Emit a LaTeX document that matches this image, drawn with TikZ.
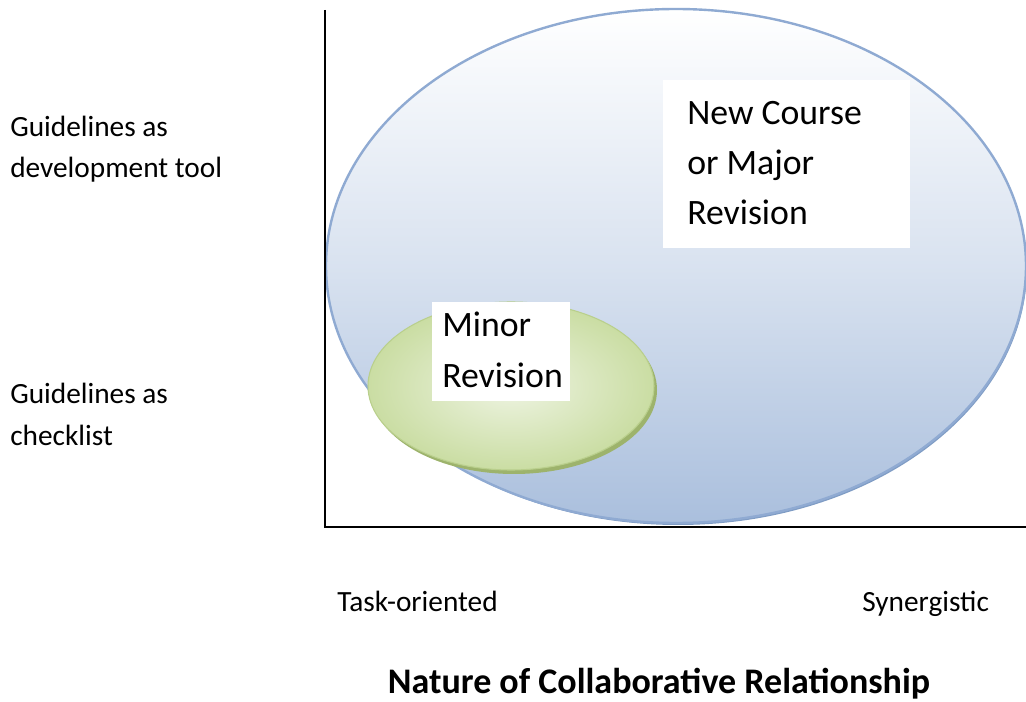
\documentclass[tikz,border=0pt]{standalone}
\usepackage{fontspec}
\setmainfont{Carlito}
\definecolor{bigedge}{HTML}{8FAAD2}
\definecolor{bigbot}{HTML}{AABFDD}
\definecolor{bigshadow}{HTML}{7F9CC4}
\definecolor{smalledge}{HTML}{B9CF8C}
\definecolor{smallout}{HTML}{CADDA3}
\definecolor{smallin}{HTML}{EEF4E2}
\definecolor{smallshadow}{HTML}{9DB36C}
\tikzset{
  axislabel/.style={anchor=base west, inner sep=0pt, font=\fontsize{22pt}{26pt}\selectfont},
  boxtext/.style={anchor=base west, inner sep=0pt, font=\fontsize{26.8pt}{32pt}\selectfont},
  whitebox/.style={fill=white, draw=none, anchor=north west, inner sep=0pt},
  axisline/.style={line width=1.6pt, black}
}
\begin{document}
\begin{tikzpicture}[x=0.75pt,y=-0.75pt]
\useasboundingbox (0,0) rectangle (1026,702);
% big ellipse with soft shadow
\fill[bigshadow] (678,268) ellipse [x radius=349, y radius=257];
\shade[top color=white, bottom color=bigbot, middle color=white!55!bigbot] (676,266) ellipse [x radius=350, y radius=257];
\draw[bigedge, line width=1.8pt] (676,266) ellipse [x radius=350, y radius=257];
% small ellipse shadow and body
\fill[smallshadow] (514,390) ellipse [x radius=143, y radius=84];
\shade[inner color=smallin, outer color=smallout] (511,386) ellipse [x radius=143, y radius=84];
\draw[smalledge, line width=0.8pt] (511,386) ellipse [x radius=143, y radius=84];
% axes
\coordinate (ytop) at (325,10);
\coordinate (orig) at (325,527);
\coordinate (xend) at (1026,527);
\draw[axisline] (ytop) -- (orig) -- (xend);
% white boxes
\node[whitebox, minimum width=247*0.75pt, minimum height=168*0.75pt] (boxA) at (663,80) {};
\node[whitebox, minimum width=138*0.75pt, minimum height=99*0.75pt] (boxB) at (432,302) {};
% box texts
\node[boxtext] (a1) at (687,125) {New Course};
\node[boxtext] (a2) at (687,175) {or Major};
\node[boxtext] (a3) at (687,225) {Revision};
\node[boxtext] (b1) at (442,337) {Minor};
\node[boxtext] (b2) at (442,388) {Revision};
% y axis labels
\node[axislabel] (g1) at (10,137) {Guidelines as};
\node[axislabel] (g2) at (10,178) {development tool};
\node[axislabel] (h1) at (10,404) {Guidelines as};
\node[axislabel] (h2) at (10,446) {checklist};
% x axis labels
\node[axislabel] (t1) at (337,612) {Task-oriented};
\node[axislabel] (s1) at (862,612) {Synergistic};
\node[anchor=base, inner sep=0pt, font=\bfseries\fontsize{27pt}{32pt}\selectfont] (title) at (659,693) {Nature of Collaborative Relationship};
\end{tikzpicture}
\end{document}
